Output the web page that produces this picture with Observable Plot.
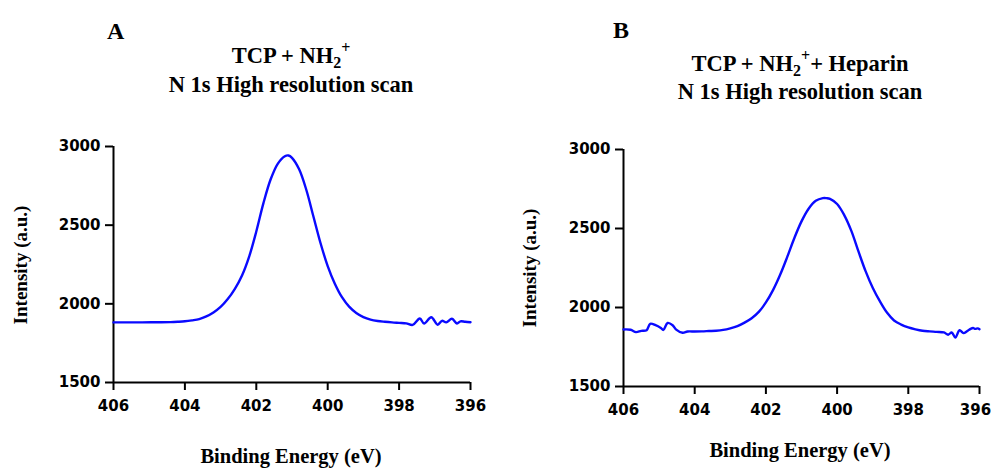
<!DOCTYPE html>
<html>
<head>
<meta charset="utf-8">
<script src="https://cdn.jsdelivr.net/npm/d3@7"></script>
<script src="https://cdn.jsdelivr.net/npm/@observablehq/plot@0.6"></script>
<style>
  html, body { margin: 0; padding: 0; background: #fff; }
  #wrap { position: relative; width: 993px; height: 469px; overflow: hidden; background: #fff; }
  .panel { position: absolute; top: 0; }
  #overlay { position: absolute; left: 0; top: 0; pointer-events: none; }
</style>
</head>
<body>
<div id="wrap">
  <div class="panel" id="pa" style="left:0px"></div>
  <div class="panel" id="pb" style="left:500px"></div>
</div>
<script>
// ---- data ----
const xTicks = [406, 404, 402, 400, 398, 396];
const yTicks = [1500, 2000, 2500, 3000];

const energyA = [406.0, 405.6, 405.2, 404.8, 404.4, 404.2, 404.0, 403.8, 403.6, 403.4,
  403.2, 403.0, 402.8, 402.6, 402.4, 402.2, 402.0, 401.8, 401.6, 401.4,
  401.2, 401.1, 401.0, 400.8, 400.6, 400.4, 400.2, 400.0, 399.8, 399.6,
  399.4, 399.2, 399.0, 398.8, 398.6, 398.4, 398.2, 398.0, 397.8, 397.62,
  397.42, 397.30, 397.10, 396.92, 396.80, 396.68, 396.52, 396.38, 396.28, 396.15, 396.0];
const intensityA = [1882, 1882, 1882, 1883, 1884, 1886, 1889, 1895, 1903, 1920,
  1945, 1980, 2030, 2095, 2180, 2300, 2460, 2640, 2790, 2890,
  2938, 2943, 2928, 2855, 2725, 2555, 2385, 2240, 2128, 2042,
  1982, 1942, 1916, 1900, 1891, 1886, 1882, 1879, 1876, 1866,
  1907, 1875, 1915, 1867, 1892, 1882, 1905, 1875, 1889, 1886, 1883];

const energyB = [406.0, 405.8, 405.65, 405.5, 405.35, 405.25, 405.1, 404.95, 404.88, 404.76,
  404.62, 404.52, 404.34, 404.2, 404.0, 403.8, 403.6, 403.4, 403.2, 403.0,
  402.8, 402.6, 402.4, 402.2, 402.0, 401.8, 401.6, 401.4, 401.2, 401.0,
  400.8, 400.6, 400.4, 400.3, 400.2, 400.0, 399.8, 399.6, 399.4, 399.2,
  399.0, 398.8, 398.6, 398.4, 398.2, 398.0, 397.8, 397.6, 397.4, 397.2,
  397.0, 396.88, 396.78, 396.68, 396.56, 396.45, 396.35, 396.25, 396.18, 396.12,
  396.05, 396.0];
const intensityB = [1861, 1859, 1844, 1852, 1856, 1897, 1888, 1870, 1858, 1902,
  1888, 1860, 1840, 1848, 1848, 1849, 1851, 1853, 1858, 1868,
  1882, 1904, 1932, 1972, 2032, 2110, 2207, 2320, 2440, 2545,
  2625, 2675, 2692, 2692, 2688, 2655, 2585, 2485, 2355, 2230,
  2125, 2040, 1968, 1918, 1892, 1874, 1862, 1853, 1849, 1846,
  1842, 1828, 1842, 1810, 1856, 1838, 1850, 1865, 1870, 1865,
  1868, 1863];

const xLabel = "Binding Energy (eV)";
const yLabel = "Intensity (a.u.)";

// ---- drawing ----
function panel(energy, intensity, opts) {
  const data = energy.map((e, i) => ({e, v: intensity[i]}));
  return Plot.plot({
    width: opts.width,
    height: 469,
    marginLeft: opts.ml,
    marginRight: opts.mr,
    marginTop: opts.mt,
    marginBottom: opts.mb,
    style: {fontFamily: "DejaVu Sans, Liberation Sans, sans-serif", fontSize: "15px", fontWeight: "bold", color: "#000", background: "transparent", overflow: "visible"},
    x: {domain: [406, 396]},
    y: {domain: [1500, 3000]},
    marks: [
      Plot.axisX({ticks: xTicks, tickFormat: d => String(d), tickSize: 8, tickPadding: 10, strokeWidth: 2, fontSize: 15, label: null}),
      Plot.axisY({ticks: yTicks, tickFormat: d => String(d), tickSize: 8, tickPadding: 5, strokeWidth: 2, fontSize: 15, label: null}),
      Plot.ruleX([406], {stroke: "#000", strokeWidth: 2}),
      Plot.ruleY([1500], {stroke: "#000", strokeWidth: 2}),
      Plot.line(data, {x: "e", y: "v", stroke: "#0a0aff", strokeWidth: 2.4, curve: "catmull-rom"})
    ]
  });
}

document.getElementById("pa").appendChild(panel(energyA, intensityA, {width: 496, ml: 113, mr: 26, mt: 146, mb: 87}));
document.getElementById("pb").appendChild(panel(energyB, intensityB, {width: 493, ml: 123, mr: 14, mt: 149, mb: 83}));

// keep the last tick label of panel B inside the window
d3.select("#pb svg").selectAll("text")
  .filter(function() { return this.textContent === "396"; })
  .attr("dx", -4);

// ---- titles and axis labels ----
const svg = d3.select("#wrap").append("svg")
  .attr("id", "overlay").attr("width", 993).attr("height", 469)
  .style("font-family", "Liberation Serif, Times New Roman, serif")
  .style("font-weight", "bold").attr("fill", "#000");

function label(x, y, size, text, anchor = "middle", rotate = false) {
  const t = svg.append("text").attr("font-size", size).attr("text-anchor", anchor).text(text);
  if (rotate) t.attr("transform", `translate(${x},${y}) rotate(-90)`);
  else t.attr("x", x).attr("y", y);
  return t;
}

label(107, 39, 24, "A", "start");
label(613, 38, 24, "B", "start");

function nhTitle(x, y, suffix) {
  const t = svg.append("text").attr("x", x).attr("y", y).attr("font-size", 22.5).attr("text-anchor", "middle");
  t.append("tspan").text("TCP + NH");
  t.append("tspan").attr("font-size", 16).attr("dy", 5).text("2");
  t.append("tspan").attr("font-size", 16).attr("dy", -15).text("+");
  t.append("tspan").attr("dy", 10).text(suffix);
}
nhTitle(291, 63, "");
nhTitle(800, 71, "+ Heparin");
label(291, 92, 22.5, "N 1s High resolution scan");
label(800, 99, 22.5, "N 1s High resolution scan");

label(291, 463, 20.5, xLabel);
label(800, 457, 20.5, xLabel);
label(27, 265, 19, yLabel, "middle", true);
label(536, 268, 19, yLabel, "middle", true);
</script>
</body>
</html>
